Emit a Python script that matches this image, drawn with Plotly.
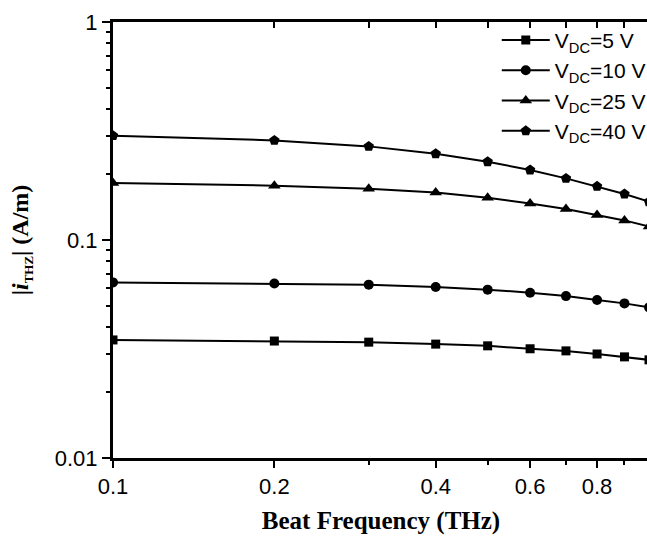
import plotly.graph_objects as go

freq = [0.1, 0.2, 0.3, 0.4, 0.5, 0.6, 0.7, 0.8, 0.9, 1.0]
v5 = [0.0348, 0.0344, 0.0340, 0.0333, 0.0327, 0.0317, 0.0310, 0.0300, 0.0291, 0.0282]
v10 = [0.0639, 0.0632, 0.0624, 0.0609, 0.0592, 0.0573, 0.0553, 0.0531, 0.0512, 0.0491]
v25 = [0.1826, 0.1775, 0.1719, 0.1653, 0.1563, 0.1472, 0.1388, 0.1302, 0.1230, 0.1154]
v40 = [0.301, 0.2863, 0.2688, 0.2488, 0.2287, 0.2095, 0.1917, 0.1762, 0.1626, 0.1499]

names = ["V<sub>DC</sub>=5 V", "V<sub>DC</sub>=10 V", "V<sub>DC</sub>=25 V", "V<sub>DC</sub>=40 V"]
series = [v5, v10, v25, v40]
symbols = ["square", "circle", "triangle-up", "pentagon"]
sizes = [9, 10, 11, 11]

x_ticks = [0.1, 0.2, 0.4, 0.6, 0.8, 1]
x_ticktext = ["0.1", "0.2", "0.4", "0.6", "0.8", "1"]
x_minor = [0.3, 0.5, 0.7, 0.9]
y_ticks = [0.01, 0.1, 1]
y_ticktext = ["0.01", "0.1", "1"]
y_minor = [0.02, 0.03, 0.04, 0.05, 0.06, 0.07, 0.08, 0.09,
           0.2, 0.3, 0.4, 0.5, 0.6, 0.7, 0.8, 0.9]

fig = go.Figure()
for i, (nm, ys, sym, sz) in enumerate(zip(names, series, symbols, sizes)):
    fig.add_trace(go.Scatter(
        x=freq, y=ys, name=nm, mode="lines+markers", legendgroup=f"g{i}",
        line=dict(color="black", width=2),
        marker=dict(symbol=sym, size=sz, color="black"),
    ))

# invisible trace on top axis for inside ticks
fig.add_trace(go.Scatter(x=[0.1], y=[0.01], xaxis="x2", showlegend=False,
                         mode="markers", marker=dict(opacity=0), hoverinfo="skip"))

sans = "Liberation Sans, Arial, sans-serif"
serif = "Liberation Serif, Times New Roman, serif"

fig.update_layout(
    width=649, height=536,
    margin=dict(l=113, r=0, t=22, b=78, autoexpand=False),
    paper_bgcolor="white", plot_bgcolor="white",
    showlegend=True,
    legend=dict(
        x=0.716, y=1.005, xanchor="left", yanchor="top",
        bgcolor="rgba(0,0,0,0)", font=dict(family=sans, size=21, color="black"),
        itemwidth=48, traceorder="normal", tracegroupgap=3,
    ),
    xaxis=dict(
        type="log", range=[-1, 0],
        tickvals=x_ticks, ticktext=x_ticktext,
        ticks="outside", ticklen=7, tickwidth=2, tickcolor="black",
        minor=dict(tickvals=x_minor, ticks="outside", ticklen=4, tickwidth=2, tickcolor="black"),
        showline=True, linewidth=3, linecolor="black",
        showgrid=False, zeroline=False,
        tickfont=dict(family=sans, size=22, color="black"),
        title=dict(text="<b>Beat Frequency (THz)</b>", font=dict(family=serif, size=25, color="black"), standoff=14),
    ),
    xaxis2=dict(
        type="log", range=[-1, 0], overlaying="x", side="top",
        tickvals=freq, ticks="inside", ticklen=6, tickwidth=2, tickcolor="black",
        showticklabels=False, showline=True, linewidth=3, linecolor="black",
        showgrid=False, zeroline=False,
    ),
    yaxis=dict(
        type="log", range=[-2, 0],
        tickvals=y_ticks, ticktext=y_ticktext,
        ticks="outside", ticklen=8, tickwidth=2, tickcolor="black",
        minor=dict(tickvals=y_minor, ticks="outside", ticklen=4, tickwidth=2, tickcolor="black"),
        showline=True, linewidth=3, linecolor="black",
        showgrid=False, zeroline=False,
        tickfont=dict(family=sans, size=22, color="black"),
        title=dict(text="<b>|<i>i</i><sub><span style='font-size:13px'>THZ</span></sub>| (A/m)</b>",
                   font=dict(family=serif, size=24, color="black"), standoff=20),
    ),
)

fig.write_html(
    "out.html",
    config={"displayModeBar": False},
    post_script="document.body.style.margin='0';document.body.style.overflow='hidden';",
)
